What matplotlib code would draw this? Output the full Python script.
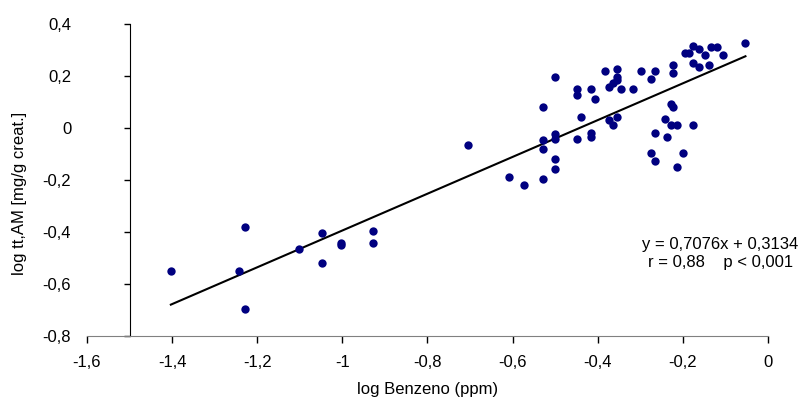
import numpy as np
import matplotlib
matplotlib.use("Agg")
import matplotlib.pyplot as plt
from matplotlib.ticker import FuncFormatter

plt.rcParams['font.family'] = ['Liberation Sans', 'DejaVu Sans']
plt.rcParams['font.size'] = 12

# dati (log benzene vs log tt,AM)
log_benzene = [
    -1.403, -1.243, -1.229, -1.229, -1.101, -1.049, -1.049, -1.003, -1.003,
    -0.928, -0.928, -0.706, -0.608, -0.574, -0.528, -0.528, -0.528, -0.528,
    -0.500, -0.500, -0.500, -0.500, -0.500, -0.448, -0.448, -0.448, -0.439,
    -0.415, -0.415, -0.415, -0.406, -0.382, -0.354, -0.354, -0.354, -0.364,
    -0.373, -0.345, -0.373, -0.364, -0.354, -0.317, -0.298, -0.274, -0.265,
    -0.223, -0.223, -0.227, -0.223, -0.241, -0.227, -0.213, -0.176, -0.265,
    -0.237, -0.274, -0.265, -0.199, -0.213, -0.194, -0.185, -0.176, -0.161,
    -0.176, -0.161, -0.147, -0.138, -0.133, -0.119, -0.105, -0.053,
]
log_ttam = [
    -0.550, -0.549, -0.381, -0.696, -0.465, -0.403, -0.519, -0.441, -0.449,
    -0.395, -0.442, -0.064, -0.187, -0.218, -0.195, 0.082, -0.047, -0.080,
    0.197, -0.023, -0.042, -0.118, -0.156, 0.151, 0.128, -0.041, 0.043,
    0.151, -0.018, -0.033, 0.113, 0.220, 0.228, 0.197, 0.185, 0.172,
    0.159, 0.151, 0.031, 0.013, 0.043, 0.151, 0.220, 0.190, 0.220,
    0.243, 0.213, 0.092, 0.082, 0.036, 0.013, 0.013, 0.013, -0.018,
    -0.033, -0.095, -0.126, -0.095, -0.149, 0.290, 0.290, 0.315, 0.305,
    0.251, 0.236, 0.282, 0.243, 0.313, 0.313, 0.282, 0.328,
]

# retta di regressione
slope = 0.7076
intercept = 0.3134

x_ticks = [-1.6, -1.4, -1.2, -1.0, -0.8, -0.6, -0.4, -0.2, 0.0]
y_ticks = [-0.8, -0.6, -0.4, -0.2, 0.0, 0.2, 0.4]


def comma_fmt(v, pos):
    if abs(v) < 1e-9:
        return "0"
    s = f"{v:.1f}".rstrip("0").rstrip(".")
    return s.replace(".", ",")


fig = plt.figure(figsize=(8.03, 4.03), dpi=100)
ax = fig.add_axes([87 / 803, 1 - 336 / 403, (768 - 87) / 803, (336 - 24) / 403])

ax.scatter(log_benzene, log_ttam, s=36, color="#000080", zorder=3, linewidths=0)

xl = np.array([min(log_benzene), max(log_benzene)])
ax.plot(xl, slope * xl + intercept, color="black", lw=1.5, zorder=2)

ax.set_xlim(-1.6, 0)
ax.set_ylim(-0.8, 0.4)
ax.set_xticks(x_ticks)
ax.set_yticks(y_ticks)
ax.xaxis.set_major_formatter(FuncFormatter(comma_fmt))
ax.yaxis.set_major_formatter(FuncFormatter(comma_fmt))

# asse y che incrocia a -1,5
ax.spines['left'].set_position(('data', -1.5))
ax.spines['right'].set_visible(False)
ax.spines['top'].set_visible(False)
ax.spines['bottom'].set_color("#808080")
ax.spines['left'].set_color("black")

ax.tick_params(axis='x', direction='out', length=5, width=1, colors='black', pad=9)
ax.tick_params(axis='y', direction='out', length=4, width=1, colors='black', pad=38)

ax.set_xlabel("log Benzeno (ppm)", labelpad=8)
fig.text(20 / 803, 1 - 193 / 403, "log tt,AM [mg/g creat.]", rotation=90,
         ha='center', va='center')

fig.text(720 / 803, 1 - 245 / 403, "y = 0,7076x + 0,3134", ha='center', va='center')
fig.text(721 / 803, 1 - 263 / 403, "r = 0,88    p < 0,001", ha='center', va='center')

fig.savefig("out.png", dpi=100)
